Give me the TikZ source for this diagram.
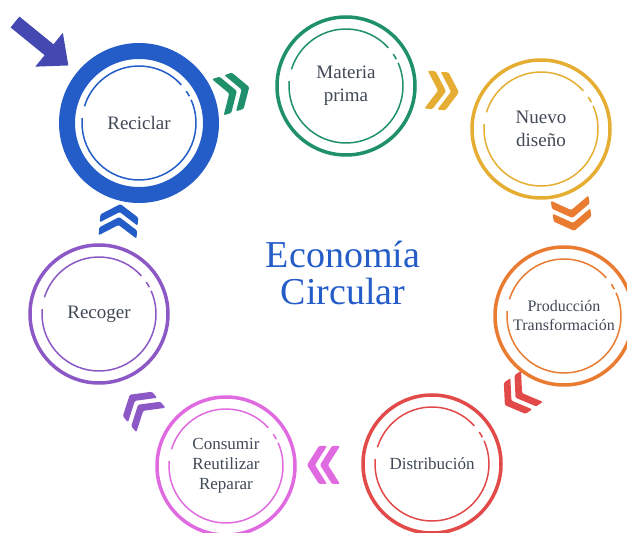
\documentclass[tikz,border=0pt]{standalone}
\usepackage{fontspec}
\setmainfont{Liberation Serif}
\usetikzlibrary{arrows.meta}
\definecolor{cicloBlue}{HTML}{245CC8}
\definecolor{cicloIndigo}{HTML}{4449B1}
\definecolor{cicloGreen}{HTML}{1F8F6C}
\definecolor{cicloYellow}{HTML}{E5AE32}
\definecolor{cicloOrange}{HTML}{E97C30}
\definecolor{cicloRed}{HTML}{E24A4A}
\definecolor{cicloPink}{HTML}{E06BE0}
\definecolor{cicloPurple}{HTML}{8B58C6}
\definecolor{labelGray}{HTML}{404856}
\newcommand{\labelSize}[0]{\fontsize{19}{23}\selectfont}
\newcommand{\smallLabel}[0]{\fontsize{17}{20}\selectfont}
\newcommand{\innerRing}[2]{%
  \draw[#2, line width=1.5pt] (#1.center) ++(42:57) arc[start angle=42, end angle=163, radius=57];
  \draw[#2, line width=1.5pt] (#1.center) ++(175:57) arc[start angle=175, end angle=384, radius=57];
  \draw[#2, line width=1.5pt] (#1.center) ++(28:57) arc[start angle=28, end angle=34, radius=57];
}

\begin{document}
\begin{tikzpicture}[x=1pt, y=1pt]
  \tikzset{
    stage/.style={circle, draw, line width=3.5pt, minimum size=138pt, inner sep=0pt,
      align=center, text=labelGray, font=\labelSize},
    chevrons/.pic={
      \foreach \d in {-4,9} {
        \fill[rounded corners=1.2pt] (\d-13,19) -- (\d-5,19) -- (\d+7,0) -- (\d-5,-19)
          -- (\d-13,-19) -- (\d-1,0) -- cycle;
      }
    },
    bigarrow/.style={cicloIndigo, line width=14pt, shorten >=11pt,
      -{Triangle[length=25pt, width=42pt]}}
  }
  \useasboundingbox (0,0) rectangle (627,533);
  \node[stage, draw=cicloBlue, line width=16pt, minimum size=144pt] (reciclar) at (139,410) {Reciclar};
  \node[stage, draw=cicloGreen] (materia) at (346,447) {Materia\\prima};
  \node[stage, draw=cicloYellow] (nuevo) at (541,404) {Nuevo\\diseño};
  \node[stage, draw=cicloOrange, font=\fontsize{16}{19}\selectfont] (produccion) at (564,217) {Producción\\Transformación};
  \node[stage, draw=cicloRed, font=\smallLabel] (distribucion) at (432,69) {Distribución};
  \node[stage, draw=cicloPink, font=\smallLabel] (consumir) at (226,67) {Consumir\\Reutilizar\\Reparar};
  \node[stage, draw=cicloPurple] (recoger) at (99,219) {Recoger};
  \innerRing{reciclar}{cicloBlue}
  \innerRing{materia}{cicloGreen}
  \innerRing{nuevo}{cicloYellow}
  \innerRing{produccion}{cicloOrange}
  \innerRing{distribucion}{cicloRed}
  \innerRing{consumir}{cicloPink}
  \innerRing{recoger}{cicloPurple}
  \node[text=cicloBlue, align=center, font=\fontsize{38}{37}\selectfont] (titulo) at (343,260) {Economía\\Circular};
  \pic[cicloGreen, rotate=18] at (234,441) {chevrons};
  \pic[cicloYellow, rotate=-5] at (443,442) {chevrons};
  \pic[cicloOrange, rotate=-82] at (572,318) {chevrons};
  \pic[cicloRed, rotate=-145] at (518,137) {chevrons};
  \pic[cicloPink, rotate=180] at (323,68) {chevrons};
  \pic[cicloPurple, rotate=130] at (140,126) {chevrons};
  \pic[cicloBlue, rotate=85] at (119,313) {chevrons};
  \coordinate (arrowTail) at (15,511);
  \draw[bigarrow] (arrowTail) -- (reciclar);
\end{tikzpicture}
\end{document}
